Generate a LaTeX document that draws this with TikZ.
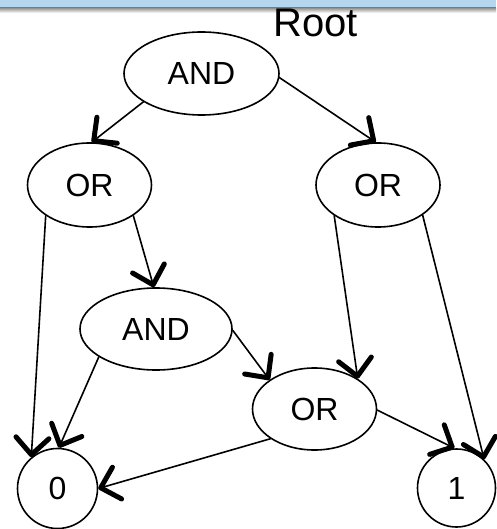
\documentclass[tikz,border=0pt]{standalone}
\usepackage{fontspec}
\setmainfont{Liberation Sans}
\usepackage{xcolor}
\usepackage{tikz}
\usetikzlibrary{arrows.meta,shapes.geometric}

\definecolor{barblue}{HTML}{B4D7EF}
\definecolor{barline}{HTML}{3C8DBF}

\begin{document}
\begin{tikzpicture}[x=1pt, y=-1pt,
    gate/.style={ellipse, draw, line width=1.6pt, inner sep=0pt, font=\fontsize{32}{36}\selectfont},
    leaf/.style={circle, draw, line width=1.6pt, inner sep=0pt, font=\fontsize{32}{36}\selectfont},
    edge/.style={line width=1.6pt, line cap=round, -{Straight Barb[length=17pt, width=33pt, line width=5pt, round]}}]
    \useasboundingbox (0,0) rectangle (496,529);

    \fill[barblue] (0,0) rectangle (496,7);
    \shade[top color=black!40, bottom color=white] (0,8.2) rectangle (496,13);
    \draw[barline, line width=1.5pt] (0,7.5) -- (496,7.5);

    \node[anchor=base west, inner sep=0pt, font=\fontsize{40}{46}\selectfont] (root) at (273,37) {Root};

    \node[gate, minimum width=155pt, minimum height=83pt] (and1) at (201.5,73.5) {AND};
    \node[gate, minimum width=124pt, minimum height=84pt] (or1) at (89.5,185) {OR};
    \node[gate, minimum width=124pt, minimum height=84pt] (or2) at (378,185) {OR};
    \node[gate, minimum width=152pt, minimum height=82pt] (and2) at (156,329) {AND};
    \node[gate, minimum width=124pt, minimum height=82pt] (or3) at (314.5,409) {OR};
    \node[leaf, minimum size=80pt] (zero) at (57.5,488.5) {0};
    \node[leaf, minimum size=78pt] (one) at (456.5,488) {1};

    \draw[edge] (and1.206) -- (or1.87);
    \draw[edge] (and1.-3) -- (or2.93);
    \draw[edge] (or1.215) -- (zero.130);
    \draw[edge] (or1.325) -- (and2.93);
    \draw[edge] (or2.215) -- (or3.35);
    \draw[edge] (or2.326) -- (one.46);
    \draw[edge] (and2.206) -- (zero.88);
    \draw[edge] (and2.-1) -- (or3.147);
    \draw[edge] (or3.214) -- (zero.0);
    \draw[edge] (or3.-1) -- (one.93);
\end{tikzpicture}
\end{document}
